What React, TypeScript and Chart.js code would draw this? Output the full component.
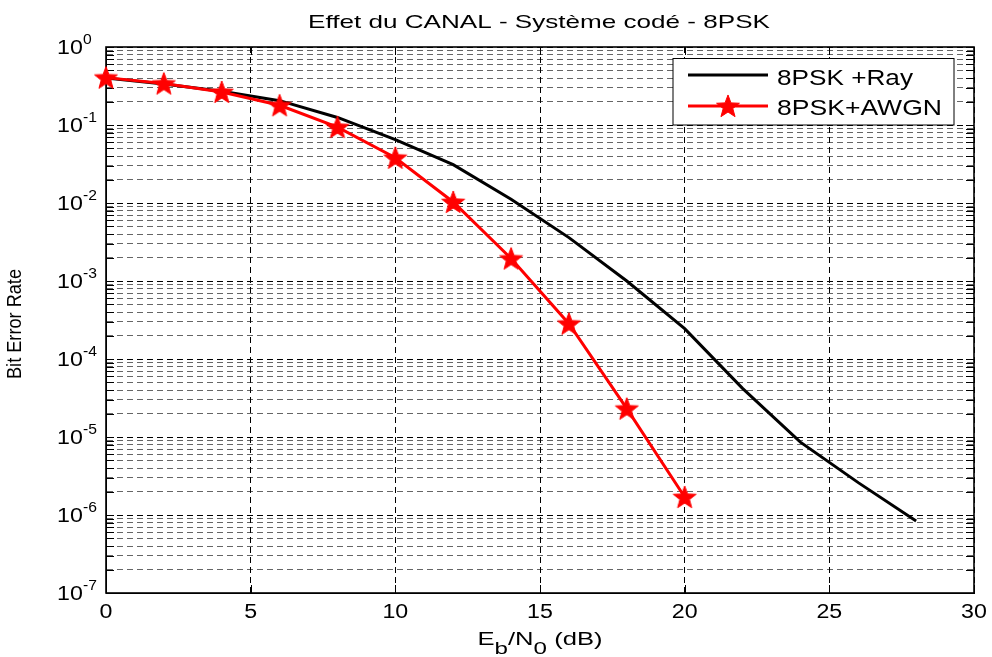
import React, { useEffect, useRef } from 'react';
import { Chart, registerables } from 'chart.js';

Chart.register(...registerables);

// Eb/N0 grid (dB) and bit error rates for each channel
const ebn0Ray = [0, 2, 4, 6, 8, 10, 12, 14, 16, 18, 20, 22, 24, 26, 28];
const berRay = [0.4, 0.335, 0.27, 0.205, 0.125, 0.065, 0.031, 0.0112, 0.0036, 0.001, 2.45e-4, 4.2e-5, 8.6e-6, 2.6e-6, 8.4e-7];
const ebn0Awgn = [0, 2, 4, 6, 8, 10, 12, 14, 16, 18, 20];
const berAwgn = [0.405, 0.34, 0.265, 0.179, 0.094, 0.038, 0.0103, 0.00194, 2.84e-4, 2.31e-5, 1.7e-6];

const xTicks = [0, 5, 10, 15, 20, 25, 30];
const yDecades = [-7, -6, -5, -4, -3, -2, -1, 0];

const titleText = 'Effet du CANAL - Système codé - 8PSK';
const yTitle = 'Bit Error Rate';
const legendLabels = ['8PSK +Ray', '8PSK+AWGN'];

const FONT = '"Liberation Sans", Arial, Helvetica, sans-serif';

// log ticks: 1..9 x 10^e for every decade, 10^0 closes the range
const yTickValues: number[] = [];
yDecades.forEach((e) => {
  const mults = e === 0 ? [1] : [1, 2, 3, 4, 5, 6, 7, 8, 9];
  mults.forEach((m) => yTickValues.push(Number((m * Math.pow(10, e)).toPrecision(6))));
});

const isDecade = (v: number) => {
  const l = Math.log10(v);
  return Math.abs(l - Math.round(l)) < 1e-6;
};

function makeStar(r: number, color: string): HTMLCanvasElement {
  const size = Math.ceil(r * 2 + 4);
  const c = document.createElement('canvas');
  c.width = size;
  c.height = size;
  const g = c.getContext('2d')!;
  g.translate(size / 2, size / 2 + r * 0.08);
  g.beginPath();
  for (let i = 0; i < 10; i++) {
    const rad = i % 2 === 0 ? r : r * 0.42;
    const a = -Math.PI / 2 + (i * Math.PI) / 5;
    const px = rad * Math.cos(a);
    const py = rad * Math.sin(a);
    if (i === 0) g.moveTo(px, py);
    else g.lineTo(px, py);
  }
  g.closePath();
  g.fillStyle = color;
  g.fill();
  g.strokeStyle = color;
  g.lineWidth = 1;
  g.stroke();
  return c;
}

function drawText(
  ctx: CanvasRenderingContext2D,
  text: string,
  x: number,
  y: number,
  size: number,
  sx: number,
  align: CanvasTextAlign
) {
  ctx.save();
  ctx.font = `${size}px ${FONT}`;
  ctx.textAlign = align;
  ctx.textBaseline = 'alphabetic';
  ctx.fillStyle = '#000';
  ctx.translate(x, y);
  ctx.scale(sx, 1);
  ctx.fillText(text, 0, 0);
  ctx.restore();
}

function fitScale(ctx: CanvasRenderingContext2D, text: string, size: number, width: number) {
  ctx.save();
  ctx.font = `${size}px ${FONT}`;
  const w = ctx.measureText(text).width;
  ctx.restore();
  return width / w;
}

export default function App() {
  const canvasRef = useRef<HTMLCanvasElement | null>(null);

  useEffect(() => {
    const canvas = canvasRef.current;
    if (!canvas) return;
    const star = makeStar(12, '#ff0000');

    const framePlugin = {
      id: 'axesFrame',
      beforeDatasetsDraw(chart: any) {
        const { ctx, chartArea } = chart;
        const { left, right, top, bottom } = chartArea;
        const xs = chart.scales.x;
        const ys = chart.scales.y;
        ctx.save();
        ctx.strokeStyle = '#000';
        ctx.lineWidth = 1;
        ctx.setLineDash([]);
        ctx.beginPath();
        yTickValues.forEach((v) => {
          const py = Math.round(ys.getPixelForValue(v)) + 0.5;
          ctx.moveTo(left, py);
          ctx.lineTo(left + 8, py);
          ctx.moveTo(right, py);
          ctx.lineTo(right - 8, py);
        });
        xTicks.forEach((v) => {
          const px = Math.round(xs.getPixelForValue(v)) + 0.5;
          ctx.moveTo(px, bottom);
          ctx.lineTo(px, bottom - 8);
          ctx.moveTo(px, top);
          ctx.lineTo(px, top + 8);
        });
        ctx.stroke();
        ctx.lineWidth = 1.6;
        ctx.strokeRect(left, top, right - left, bottom - top);
        ctx.restore();
      },
      afterDraw(chart: any) {
        const { ctx, chartArea } = chart;
        const xs = chart.scales.x;
        const ys = chart.scales.y;

        // title
        const tsx = fitScale(ctx, titleText, 19, 462);
        drawText(ctx, titleText, 539, 28.3, 19, tsx, 'center');

        // x tick labels
        xTicks.forEach((v) => {
          drawText(ctx, String(v), xs.getPixelForValue(v), 618, 20, 1.16, 'center');
        });

        // y tick labels 10^e
        yDecades.forEach((e) => {
          const py = ys.getPixelForValue(Math.pow(10, e));
          drawText(ctx, '10', 57, py + 7, 20, 1.16, 'left');
          drawText(ctx, e === 0 ? '0' : '-' + String(-e), 83, py - 3.5, 14, 1.12, 'left');
        });

        // y axis title
        ctx.save();
        ctx.translate(20.5, (chartArea.top + chartArea.bottom) / 2 + 4);
        ctx.rotate(-Math.PI / 2);
        const ysx = fitScale(ctx, yTitle, 19.5, 110);
        drawText(ctx, yTitle, 0, 0, 19.5, ysx, 'center');
        ctx.restore();

        // x axis title: E_b/N_0 (dB)
        const pieces = [
          { t: 'E', sub: false },
          { t: 'b', sub: true },
          { t: '/N', sub: false },
          { t: '0', sub: true },
          { t: ' (dB)', sub: false },
        ];
        ctx.save();
        let total = 0;
        const widths = pieces.map((p) => {
          ctx.font = `${p.sub ? 17 : 18}px ${FONT}`;
          const w = ctx.measureText(p.t).width;
          total += w;
          return w;
        });
        ctx.restore();
        const xsx = 125 / total;
        let cx = (chartArea.left + chartArea.right) / 2 - 125 / 2;
        pieces.forEach((p, i) => {
          drawText(ctx, p.t, cx, p.sub ? 654 : 644.5, p.sub ? 17 : 18, xsx, 'left');
          cx += widths[i] * xsx;
        });

        // legend
        ctx.save();
        ctx.setLineDash([]);
        ctx.fillStyle = '#fff';
        ctx.fillRect(673, 58.5, 281, 66.5);
        ctx.strokeStyle = '#000';
        ctx.lineWidth = 1;
        ctx.strokeRect(673, 58.5, 281, 66.5);
        const dsets = chart.data.datasets;
        const rows = [
          { ds: dsets[0], y: 75, base: 85, w: 136 },
          { ds: dsets[1], y: 106, base: 115, w: 165 },
        ];
        rows.forEach((r, i) => {
          ctx.strokeStyle = r.ds.borderColor;
          ctx.lineWidth = r.ds.borderWidth;
          ctx.beginPath();
          ctx.moveTo(688, r.y);
          ctx.lineTo(768, r.y);
          ctx.stroke();
          if (i === 1) ctx.drawImage(star, 728 - star.width / 2, r.y - star.height / 2);
          const s = fitScale(ctx, legendLabels[i], 22, r.w);
          drawText(ctx, legendLabels[i], 777, r.base, 22, s, 'left');
        });
        ctx.restore();
      },
    };

    const chart = new Chart(canvas, {
      type: 'line',
      data: {
        datasets: [
          {
            label: legendLabels[0],
            data: ebn0Ray.map((x, i) => ({ x, y: berRay[i] })),
            borderColor: '#000000',
            borderWidth: 3,
            pointRadius: 0,
            tension: 0,
            fill: false,
            order: 1,
          },
          {
            label: legendLabels[1],
            data: ebn0Awgn.map((x, i) => ({ x, y: berAwgn[i] })),
            borderColor: '#ff0000',
            backgroundColor: '#ff0000',
            borderWidth: 3,
            pointStyle: star as any,
            pointRadius: 12,
            tension: 0,
            fill: false,
            clip: false as any,
            order: 0,
          },
        ],
      },
      options: {
        animation: false,
        responsive: false,
        devicePixelRatio: 1,
        layout: { padding: { left: 0, top: 47, right: 18, bottom: 0 } },
        plugins: {
          legend: { display: false },
          title: { display: false },
          tooltip: { enabled: false },
        },
        scales: {
          x: {
            type: 'linear',
            min: 0,
            max: 30,
            afterBuildTicks: (s: any) => {
              s.ticks = xTicks.map((v) => ({ value: v }));
            },
            afterFit: (s: any) => {
              s.height = 64;
            },
            ticks: { display: false },
            grid: { color: '#000', lineWidth: 1, drawTicks: false },
            border: { display: true, color: '#000', dash: [6, 4] },
          },
          y: {
            type: 'logarithmic',
            min: 1e-7,
            max: 1,
            afterBuildTicks: (s: any) => {
              s.ticks = yTickValues.map((v) => ({ value: v, major: isDecade(v) }));
            },
            afterFit: (s: any) => {
              s.width = 106;
            },
            ticks: { display: false },
            grid: {
              drawTicks: false,
              lineWidth: 1,
              color: (c: any) => (c.tick && isDecade(c.tick.value) ? '#000' : 'rgba(0,0,0,0.6)'),
            },
            border: { display: true, color: '#000', dash: [6, 4] },
          },
        },
      },
      plugins: [framePlugin],
    });

    return () => chart.destroy();
  }, []);

  return (
    <div style={{ position: 'absolute', left: 0, top: 0, width: 992, height: 657, background: '#fff' }}>
      <canvas ref={canvasRef} width={992} height={657} style={{ display: 'block' }} />
    </div>
  );
}
